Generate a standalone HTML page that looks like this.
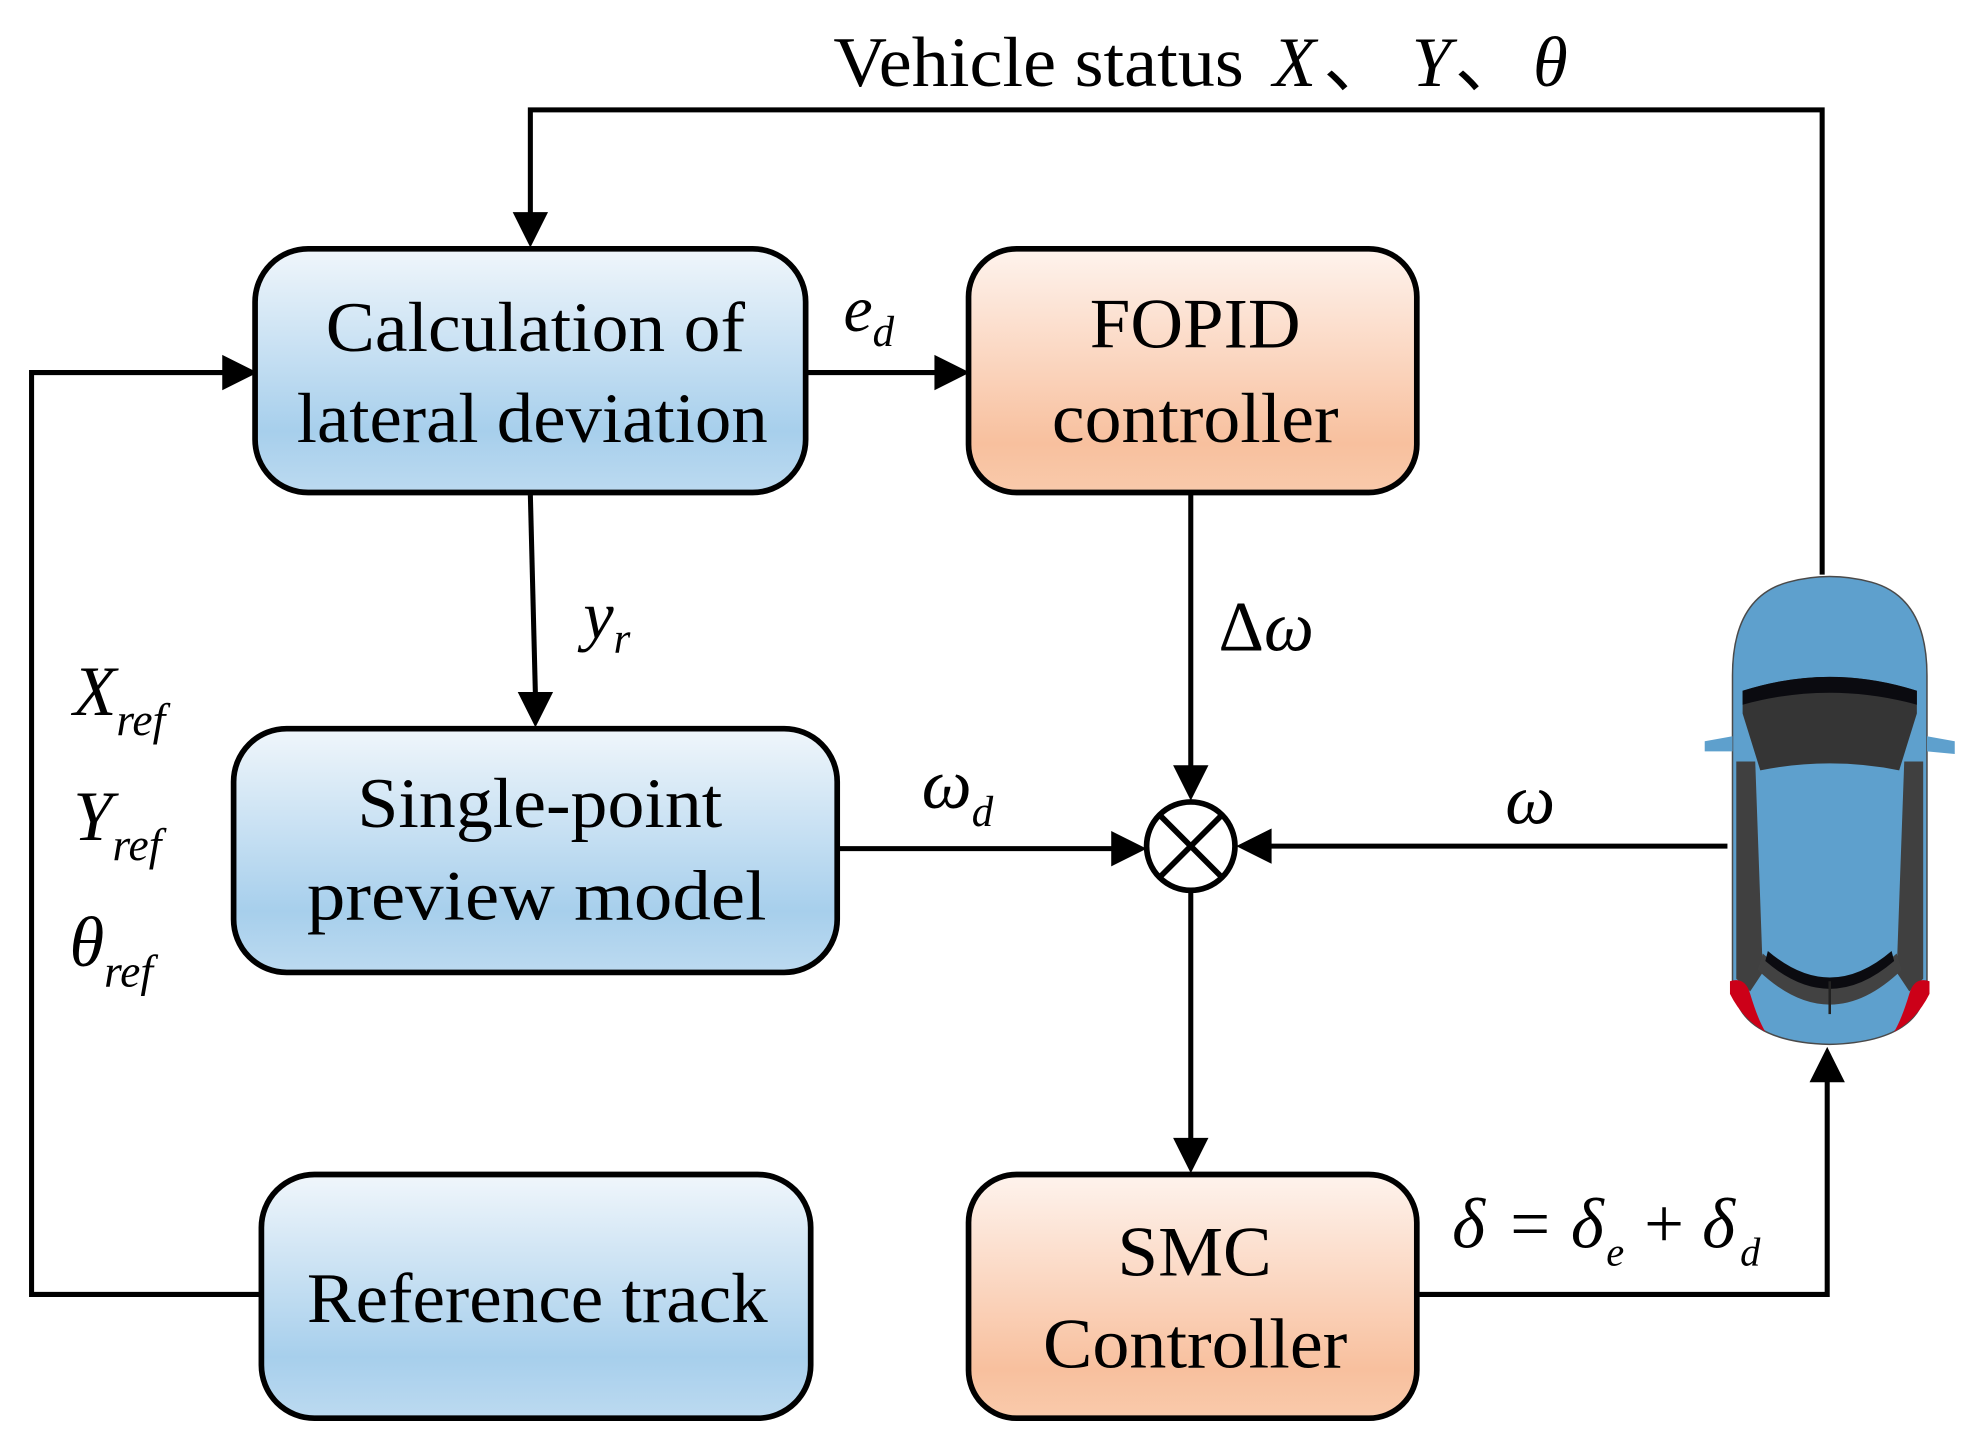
<!DOCTYPE html>
<html><head><meta charset="utf-8"><style>
html,body{margin:0;padding:0;background:#fff;width:1980px;height:1446px;overflow:hidden}
svg{display:block}
text{font-family:"Liberation Serif",serif;fill:#000}
.b{font-size:56px}
.i{font-style:italic}
</style></head><body>
<svg width="1980" height="1446" viewBox="0 0 1568 1145" preserveAspectRatio="none" xmlns="http://www.w3.org/2000/svg">
<defs>
<linearGradient id="bl" x1="0" y1="0" x2="0" y2="1"><stop offset="0" stop-color="#f0f6fb"/><stop offset="0.75" stop-color="#a7cfec"/><stop offset="1" stop-color="#bcdaf0"/></linearGradient>
<linearGradient id="or" x1="0" y1="0" x2="0" y2="1"><stop offset="0" stop-color="#fef3ed"/><stop offset="0.8" stop-color="#f8c09e"/><stop offset="1" stop-color="#f9caab"/></linearGradient>
</defs>
<g stroke="#000" stroke-width="4" fill="none">
<path d="M1443,455 V87 H420 V170"/>
<path d="M207,1025 H25 V295 H178"/>
<path d="M420,392 L424,550"/>
<path d="M638,295 H742"/>
<path d="M943,392 V608"/>
<path d="M663,672 H882"/>
<path d="M1368,670 H1005"/>
<path d="M943,705 V903"/>
<path d="M1122,1025 H1447 V855"/>
</g>
<g fill="#000">
<path d="M406,168 L434,168 L420,196 z"/>
<path d="M176,281 L176,309 L204,295 z"/>
<path d="M410,548 L438,548 L424,576 z"/>
<path d="M740,281 L740,309 L768,295 z"/>
<path d="M929,606 L957,606 L943,634 z"/>
<path d="M880,658 L880,686 L908,672 z"/>
<path d="M1007,656 L1007,684 L979,670 z"/>
<path d="M929,901 L957,901 L943,929 z"/>
<path d="M1433,857 L1461,857 L1447,829 z"/>
</g>
<g stroke="#000" stroke-width="4.5">
<rect x="202" y="197" width="436" height="193" rx="42" fill="url(#bl)"/>
<rect x="767" y="197" width="355" height="193" rx="38" fill="url(#or)"/>
<rect x="185" y="577" width="478" height="193" rx="42" fill="url(#bl)"/>
<rect x="207" y="930" width="435" height="193" rx="42" fill="url(#bl)"/>
<rect x="767" y="930" width="355" height="193" rx="38" fill="url(#or)"/>
<circle cx="943" cy="670" r="35" fill="#fff"/>
<path d="M918,645 L968,695 M968,645 L918,695"/>
</g>
<g class="b">
<text x="258" y="278" textLength="332" lengthAdjust="spacingAndGlyphs">Calculation of</text>
<text x="235" y="350" textLength="373" lengthAdjust="spacingAndGlyphs">lateral deviation</text>
<text x="863" y="275" textLength="167" lengthAdjust="spacingAndGlyphs">FOPID</text>
<text x="833" y="350" textLength="227" lengthAdjust="spacingAndGlyphs">controller</text>
<text x="283" y="655" textLength="289" lengthAdjust="spacingAndGlyphs">Single-point</text>
<text x="243" y="728" textLength="364" lengthAdjust="spacingAndGlyphs">preview model</text>
<text x="243" y="1047" textLength="365" lengthAdjust="spacingAndGlyphs">Reference track</text>
<text x="885" y="1010" textLength="122" lengthAdjust="spacingAndGlyphs">SMC</text>
<text x="826" y="1083" textLength="241" lengthAdjust="spacingAndGlyphs">Controller</text>
</g>
<text x="660" y="68" font-size="56"><tspan textLength="325" lengthAdjust="spacingAndGlyphs">Vehicle status</tspan><tspan class="i" x="1008">X</tspan><tspan x="1048">、</tspan><tspan class="i" x="1118">Y</tspan><tspan x="1152">、</tspan><tspan class="i" x="1214">θ</tspan></text>
<text x="668" y="262" font-size="52" class="i">e<tspan font-size="34" dy="12">d</tspan></text>
<text x="462" y="505" font-size="54" class="i">y<tspan font-size="34" dy="12">r</tspan></text>
<text x="965" y="515" font-size="56">Δ<tspan class="i">ω</tspan></text>
<text x="730" y="640" font-size="56" class="i">ω<tspan font-size="34" dy="14">d</tspan></text>
<text x="1192" y="652" font-size="56" class="i">ω</text>
<text font-size="56" class="i"><tspan x="1150" y="988">δ</tspan><tspan x="1196" font-style="normal">=</tspan><tspan x="1244">δ</tspan><tspan font-size="32" x="1272" y="1002">e</tspan><tspan x="1302" y="988" font-style="normal">+</tspan><tspan x="1348">δ</tspan><tspan font-size="32" x="1378" y="1002">d</tspan></text>
<text x="58" y="566" font-size="56" class="i">X<tspan font-size="36" dy="16">ref</tspan></text>
<text x="58" y="665" font-size="56" class="i">Y<tspan font-size="36" dy="16">ref</tspan></text>
<text x="55" y="765" font-size="56" class="i">θ<tspan font-size="36" dy="16">ref</tspan></text>
<!-- car -->
<g transform="translate(1368,455)">
<path d="M4,80 Q4,18 48,6 Q81,-3 114,6 Q158,18 158,80 L158,322 Q156,370 81,372 Q6,370 4,322 z" fill="#5ea0cd" stroke="#4a4a4a" stroke-width="1.2"/>
<path d="M-18,132 L4,128 L4,140 L-18,140 z" fill="#5ea0cd"/>
<path d="M158,128 L180,132 L180,142 L158,140 z" fill="#5ea0cd"/>
<path d="M12,92 Q81,70 150,92 L150,110 L136,155 Q81,144 26,155 L12,110 z" fill="#353535"/>
<path d="M12,92 Q81,70 150,92 L150,103 Q81,84 12,103 z" fill="#0b0b10"/>
<path d="M7,148 L22,148 L28,315 L18,330 L7,320 z" fill="#404040"/>
<path d="M155,148 L140,148 L134,315 L144,330 L155,320 z" fill="#404040"/>
<path d="M28,300 Q81,350 134,300 L138,313 Q81,368 24,313 z" fill="#424242"/>
<path d="M32,298 Q81,340 130,298 L132,306 Q81,350 30,306 z" fill="#0b0b10"/>
<path d="M2,322 Q14,318 18,332 Q24,352 30,362 Q12,352 2,332 z" fill="#cc0018"/>
<path d="M160,322 Q148,318 144,332 Q138,352 132,362 Q150,352 160,332 z" fill="#cc0018"/>
<line x1="81" y1="322" x2="81" y2="348" stroke="#222" stroke-width="2"/>
</g>
</svg>
</body></html>
